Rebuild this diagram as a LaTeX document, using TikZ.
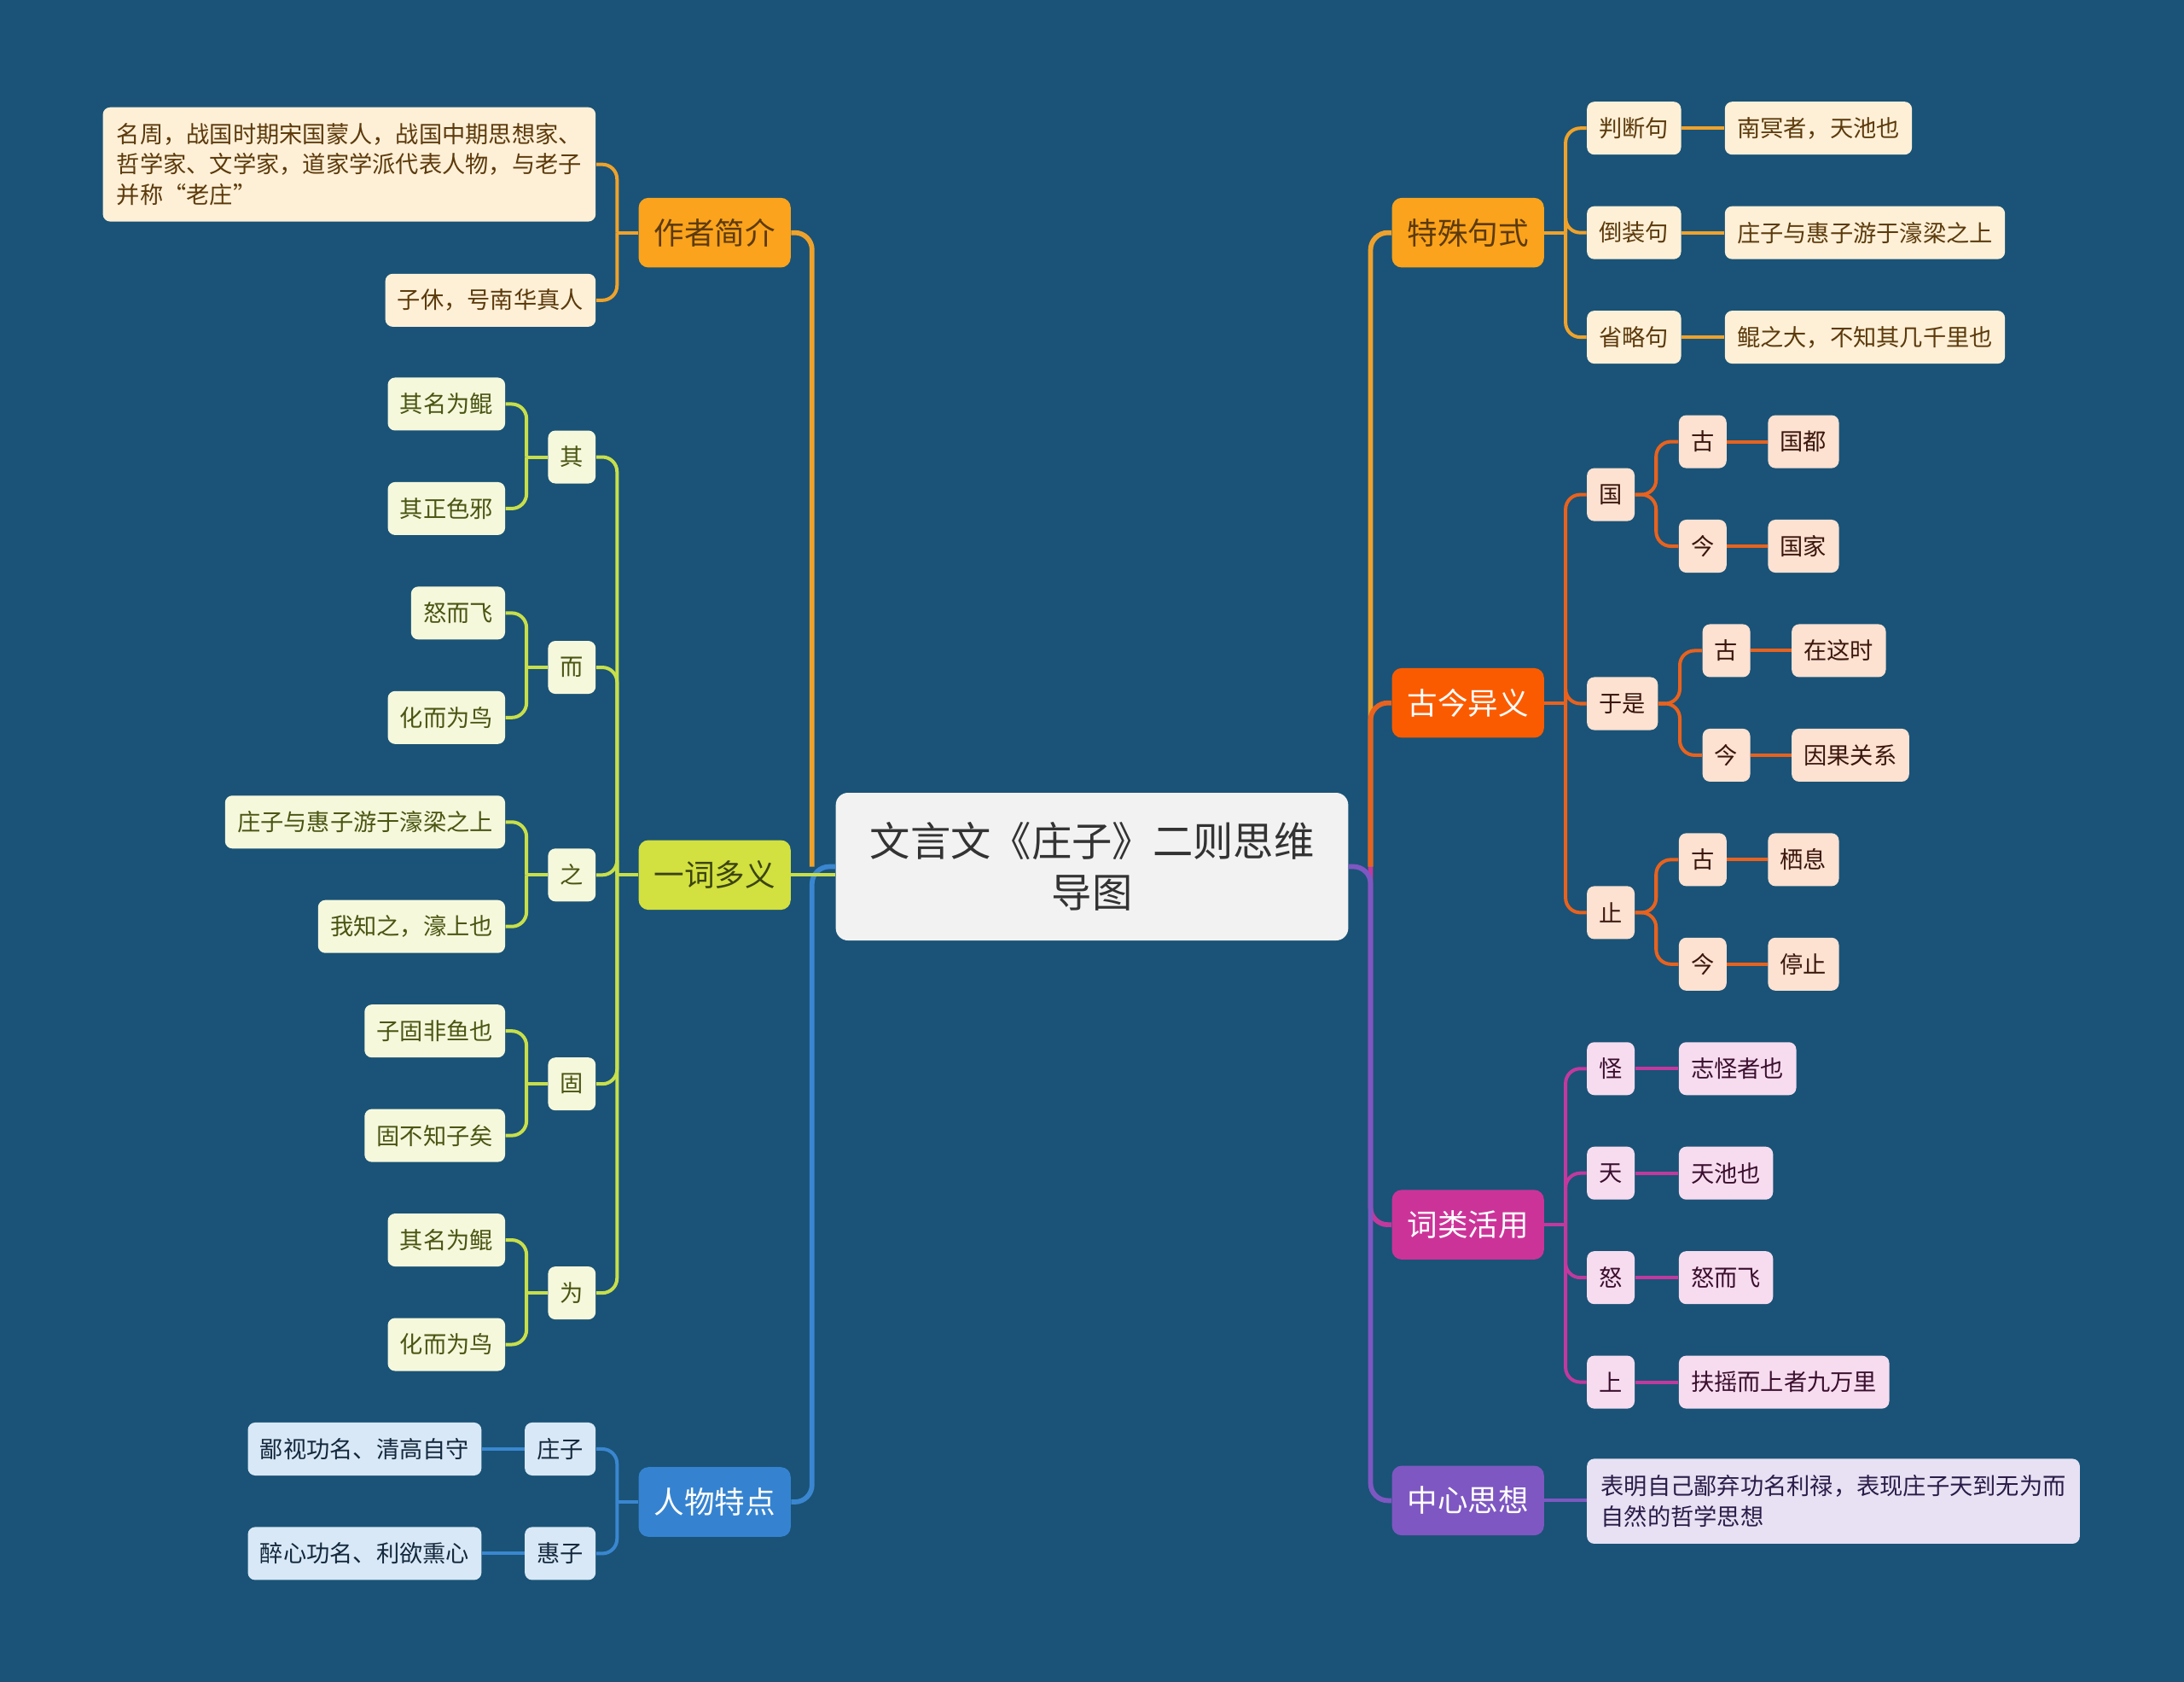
\documentclass[tikz,border=0pt]{standalone}
\usepackage{fontspec}
\setmainfont{Noto Sans CJK SC}
\definecolor{bg}{HTML}{1A5377}
\definecolor{rootf}{HTML}{F2F2F2}
\definecolor{orf}{HTML}{FBA31C}
\definecolor{orl}{HTML}{EFA22B}
\definecolor{orleaf}{HTML}{FEF0D7}
\definecolor{ortext}{HTML}{5C3A0C}
\definecolor{rdf}{HTML}{FB5B00}
\definecolor{rdl}{HTML}{E8621E}
\definecolor{rdleaf}{HTML}{FDE1D1}
\definecolor{rdtext}{HTML}{3A160C}
\definecolor{gnf}{HTML}{D2E040}
\definecolor{gnl}{HTML}{C8DF4A}
\definecolor{gnleaf}{HTML}{F6F8DC}
\definecolor{gntext}{HTML}{4A5512}
\definecolor{mgf}{HTML}{CC3399}
\definecolor{mgl}{HTML}{C2399E}
\definecolor{mgleaf}{HTML}{F7DCEF}
\definecolor{mgtext}{HTML}{3A0F2E}
\definecolor{puf}{HTML}{7E57C2}
\definecolor{pul}{HTML}{7E57C2}
\definecolor{puleaf}{HTML}{E7E1F3}
\definecolor{putext}{HTML}{2A1C48}
\definecolor{blf}{HTML}{3583D0}
\definecolor{bll}{HTML}{3A86D0}
\definecolor{blleaf}{HTML}{D8E8F6}
\definecolor{bltext}{HTML}{13283D}
\begin{document}
\begin{tikzpicture}[x=0.02cm,y=-0.02cm,
  leafbox/.style={rounded corners=3pt, inner sep=0pt, inner xsep=0.175cm, minimum height=0.76cm, font=\fontsize{9.5}{12.5}\selectfont},
  mainbox/.style={rounded corners=4pt, inner sep=0pt, inner xsep=0.22cm, minimum height=1.0cm, font=\fontsize{12.4}{15}\selectfont},
  oleaf/.style={leafbox, fill=orleaf, text=ortext},
  rleaf/.style={leafbox, fill=rdleaf, text=rdtext},
  gleaf/.style={leafbox, fill=gnleaf, text=gntext},
  mleaf/.style={leafbox, fill=mgleaf, text=mgtext},
  pleaf/.style={leafbox, fill=puleaf, text=putext},
  bleaf/.style={leafbox, fill=blleaf, text=bltext},
  lo/.style={draw=orl, line width=1.4pt},
  lr/.style={draw=rdl, line width=1.4pt},
  lg/.style={draw=gnl, line width=1.4pt},
  lm/.style={draw=mgl, line width=1.4pt},
  lp/.style={draw=pul, line width=1.4pt},
  lb/.style={draw=bll, line width=1.4pt},
  spine/.style={line width=2pt, rounded corners=7pt},
  rc/.style={rounded corners=6pt}
]
\useasboundingbox (0,0) rectangle (1568,1207);
\fill[bg] (0,0) rectangle (1568,1207);

% root
\node[rounded corners=5pt, fill=rootf, text=black!80, minimum width=7.36cm, minimum height=2.12cm, align=center, inner sep=0pt, font=\fontsize{16.5}{21}\selectfont] (root) at (784,622) {文言文《庄子》二则思维\\导图};

% ---------- left main nodes
\node[mainbox, fill=orf, text=ortext, anchor=east] (zz) at (568,167) {作者简介};
\node[mainbox, fill=gnf, text=gntext!80!black, anchor=east] (yc) at (568,628) {一词多义};
\node[mainbox, fill=blf, text=white, anchor=east] (rw) at (568,1078) {人物特点};

% ---------- right main nodes
\node[mainbox, fill=orf, text=ortext, anchor=west] (ts) at (999,167) {特殊句式};
\node[mainbox, fill=rdf, text=white, anchor=west] (gj) at (999,504.5) {古今异义};
\node[mainbox, fill=mgf, text=white, anchor=west] (cl) at (999,879) {词类活用};
\node[mainbox, fill=puf, text=white, anchor=west] (zx) at (999,1077) {中心思想};

% ---------- 作者简介 leaves
\node[oleaf, anchor=east, align=left, minimum height=1.64cm, inner xsep=0.2cm] (za) at (428,118) {名周，战国时期宋国蒙人，战国中期思想家、\\哲学家、文学家，道家学派代表人物，与老子\\并称“老庄”};
\node[oleaf, anchor=east] (zb) at (428,215.5) {子休，号南华真人};

% ---------- 一词多义
\node[gleaf, anchor=east] (q1) at (428,328) {其};
\node[gleaf, anchor=east] (q1a) at (363,290) {其名为鲲};
\node[gleaf, anchor=east] (q1b) at (363,365) {其正色邪};
\node[gleaf, anchor=east] (q2) at (428,479) {而};
\node[gleaf, anchor=east] (q2a) at (363,440) {怒而飞};
\node[gleaf, anchor=east] (q2b) at (363,515) {化而为鸟};
\node[gleaf, anchor=east] (q3) at (428,628) {之};
\node[gleaf, anchor=east] (q3a) at (363,590) {庄子与惠子游于濠梁之上};
\node[gleaf, anchor=east] (q3b) at (363,665) {我知之，濠上也};
\node[gleaf, anchor=east] (q4) at (428,778) {固};
\node[gleaf, anchor=east] (q4a) at (363,740) {子固非鱼也};
\node[gleaf, anchor=east] (q4b) at (363,815) {固不知子矣};
\node[gleaf, anchor=east] (q5) at (428,928) {为};
\node[gleaf, anchor=east] (q5a) at (363,890) {其名为鲲};
\node[gleaf, anchor=east] (q5b) at (363,965) {化而为鸟};

% ---------- 人物特点
\node[bleaf, anchor=east] (r1) at (428,1040) {庄子};
\node[bleaf, anchor=east] (r1a) at (346,1040) {鄙视功名、清高自守};
\node[bleaf, anchor=east] (r2) at (428,1115) {惠子};
\node[bleaf, anchor=east] (r2a) at (346,1115) {醉心功名、利欲熏心};

% ---------- 特殊句式
\node[oleaf, anchor=west] (t1) at (1139,92) {判断句};
\node[oleaf, anchor=west] (t1a) at (1238,92) {南冥者，天池也};
\node[oleaf, anchor=west] (t2) at (1139,167) {倒装句};
\node[oleaf, anchor=west] (t2a) at (1238,167) {庄子与惠子游于濠梁之上};
\node[oleaf, anchor=west] (t3) at (1139,242) {省略句};
\node[oleaf, anchor=west] (t3a) at (1238,242) {鲲之大，不知其几千里也};

% ---------- 古今异义
\node[rleaf, anchor=west] (g1) at (1139,355) {国};
\node[rleaf, anchor=west] (g1a) at (1205,317) {古};
\node[rleaf, anchor=west] (g1aa) at (1269,317) {国都};
\node[rleaf, anchor=west] (g1b) at (1205,392) {今};
\node[rleaf, anchor=west] (g1bb) at (1269,392) {国家};
\node[rleaf, anchor=west] (g2) at (1139,505) {于是};
\node[rleaf, anchor=west] (g2a) at (1222,467) {古};
\node[rleaf, anchor=west] (g2aa) at (1286,467) {在这时};
\node[rleaf, anchor=west] (g2b) at (1222,542) {今};
\node[rleaf, anchor=west] (g2bb) at (1286,542) {因果关系};
\node[rleaf, anchor=west] (g3) at (1139,655) {止};
\node[rleaf, anchor=west] (g3a) at (1205,617) {古};
\node[rleaf, anchor=west] (g3aa) at (1269,617) {栖息};
\node[rleaf, anchor=west] (g3b) at (1205,692) {今};
\node[rleaf, anchor=west] (g3bb) at (1269,692) {停止};

% ---------- 词类活用
\node[mleaf, anchor=west] (c1) at (1139,767) {怪};
\node[mleaf, anchor=west] (c1a) at (1205,767) {志怪者也};
\node[mleaf, anchor=west] (c2) at (1139,842) {天};
\node[mleaf, anchor=west] (c2a) at (1205,842) {天池也};
\node[mleaf, anchor=west] (c3) at (1139,917) {怒};
\node[mleaf, anchor=west] (c3a) at (1205,917) {怒而飞};
\node[mleaf, anchor=west] (c4) at (1139,992) {上};
\node[mleaf, anchor=west] (c4a) at (1205,992) {扶摇而上者九万里};

% ---------- 中心思想
\node[pleaf, anchor=west, align=left, minimum height=1.22cm, inner xsep=0.2cm] (zxa) at (1139,1077.5) {表明自己鄙弃功名利禄，表现庄子天到无为而\\自然的哲学思想};

% ================= connectors
\coordinate (LS) at (583,622);
\coordinate (RS) at (984,622);
% left spine
\draw[lo, spine] (LS) |- (zz.east);
\draw[lb, spine] (root.west) -- (LS) |- (rw.east);
\draw[lg] (yc.east) -- (yc.east -| root.west);
% right spine
\draw[lo, spine] (RS) |- (ts.west);
\draw[lr, spine] (RS) |- (gj.west);
\draw[lm, spine] (RS) |- (cl.west);
\draw[lp, spine] (root.east) -- (RS) |- (zx.west);

% 作者简介
\coordinate (zzb) at (443,167);
\draw[lo] (zz.west) -- (zzb);
\draw[lo, rc] (zzb) |- (za.east);
\draw[lo, rc] (zzb) |- (zb.east);

% 一词多义
\coordinate (ycb) at (443,628);
\draw[lg] (yc.west) -- (ycb);
\foreach \n in {q1,q2,q3,q4,q5} { \draw[lg, rc] (ycb) |- (\n.east); }
\foreach \p/\y in {q1/328,q2/479,q3/628,q4/778,q5/928} {
  \draw[lg] (\p.west) -- (378,\y);
  \draw[lg, rc] (378,\y) |- (\p a.east);
  \draw[lg, rc] (378,\y) |- (\p b.east);
}

% 人物特点
\coordinate (rwb) at (443,1078);
\draw[lb] (rw.west) -- (rwb);
\draw[lb, rc] (rwb) |- (r1.east);
\draw[lb, rc] (rwb) |- (r2.east);
\draw[lb] (r1.west) -- (r1a.east);
\draw[lb] (r2.west) -- (r2a.east);

% 特殊句式
\coordinate (tsb) at (1124,167);
\draw[lo] (ts.east) -- (tsb);
\foreach \n in {t1,t2,t3} { \draw[lo, rc] (tsb) |- (\n.west); \draw[lo] (\n.east) -- (\n a.west); }

% 古今异义
\coordinate (gjb) at (1124,504.5);
\draw[lr] (gj.east) -- (gjb);
\foreach \n in {g1,g2,g3} { \draw[lr, rc] (gjb) |- (\n.west); }
\foreach \p/\x/\y in {g1/1189/355,g2/1206/505,g3/1189/655} {
  \draw[lr, rc] (\p.east) -- (\x,\y) |- (\p a.west);
  \draw[lr, rc] (\p.east) -- (\x,\y) |- (\p b.west);
  \draw[lr] (\p a.east) -- (\p aa.west);
  \draw[lr] (\p b.east) -- (\p bb.west);
}

% 词类活用
\coordinate (clb) at (1124,879);
\draw[lm] (cl.east) -- (clb);
\foreach \n in {c1,c2,c3,c4} { \draw[lm, rc] (clb) |- (\n.west); \draw[lm] (\n.east) -- (\n a.west); }

% 中心思想
\draw[lp] (zx.east) -- (zx.east -| zxa.west);
\end{tikzpicture}
\end{document}
